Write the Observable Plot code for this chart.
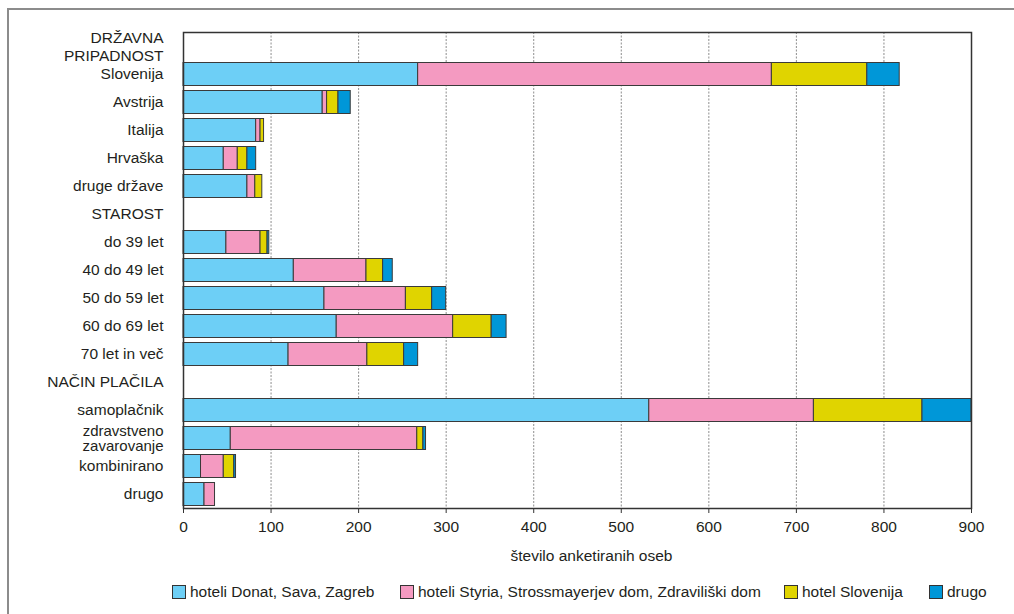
<!DOCTYPE html>
<html>
<head>
<meta charset="utf-8">
<script src="https://cdn.jsdelivr.net/npm/d3@7"></script>
<script src="https://cdn.jsdelivr.net/npm/@observablehq/plot@0.6"></script>
<style>
  html, body { margin: 0; padding: 0; background: #fff; }
  #wrap { position: relative; width: 1014px; height: 614px; overflow: hidden; font-family: "Liberation Sans", Arial, Helvetica, sans-serif; color: #231f20; }
  #outer { position: absolute; left: 7px; top: 8px; width: 1100px; height: 700px; border-top: 2px solid #8c8c8c; border-left: 2px solid #8c8c8c; }
  #chart { position: absolute; left: 0; top: 0; }
  .lg { position: absolute; top: 583px; display: flex; align-items: center; font-size: 15.5px; white-space: nowrap; }
  .sw { width: 12px; height: 12px; border: 1px solid #333; margin-right: 4px; box-sizing: content-box; }
</style>
</head>
<body>
<div id="wrap">
  <div id="outer"></div>
  <div id="chart"></div>
  <div id="legend"></div>
</div>
<script>
// ---- data ----
const rowOrder = [
  "DRŽAVNA\nPRIPADNOST",
  "Slovenija", "Avstrija", "Italija", "Hrvaška", "druge države",
  "STAROST",
  "do 39 let", "40 do 49 let", "50 do 59 let", "60 do 69 let", "70 let in več",
  "NAČIN PLAČILA",
  "samoplačnik", "zdravstveno\nzavarovanje", "kombinirano", "drugo"
];
const categories = [
  "Slovenija", "Avstrija", "Italija", "Hrvaška", "druge države",
  "do 39 let", "40 do 49 let", "50 do 59 let", "60 do 69 let", "70 let in več",
  "samoplačnik", "zdravstveno\nzavarovanje", "kombinirano", "drugo"
];
const seriesNames = [
  "hoteli Donat, Sava, Zagreb",
  "hoteli Styria, Strossmayerjev dom, Zdraviliški dom",
  "hotel Slovenija",
  "drugo"
];
const donatSavaZagreb = [268, 159, 83, 46, 73, 49, 126, 161, 175, 120, 532, 54, 20, 24];
const styriaStrossmayer = [404, 5, 5, 16, 9, 39, 83, 93, 133, 90, 188, 213, 26, 12];
const hotelSlovenija = [109, 13, 4, 11, 8, 8, 19, 30, 44, 42, 124, 7, 12, 0];
const drugoHotel = [37, 14, 0, 10, 0, 2, 11, 16, 17, 16, 56, 3, 2, 0];
const xTicks = [0, 100, 200, 300, 400, 500, 600, 700, 800, 900];
const colors = ["#6dcff6", "#f49ac1", "#e0d400", "#0097d8"];
const xLabel = "število anketiranih oseb";

// ---- table ----
const seriesValues = [donatSavaZagreb, styriaStrossmayer, hotelSlovenija, drugoHotel];
const table = [];
categories.forEach((c, i) => {
  seriesNames.forEach((s, j) => {
    const v = seriesValues[j][i];
    if (v > 0) table.push({cat: c, series: s, value: v});
  });
});

const font = '"Liberation Sans", Arial, Helvetica, sans-serif';
const twoLineHeader = ["DRŽAVNA\nPRIPADNOST"];
const twoLineCat = ["zdravstveno\nzavarovanje"];
const singleRows = rowOrder.filter(d => !d.includes("\n"));

const chart = Plot.plot({
  width: 1014,
  height: 575,
  marginLeft: 183,
  marginRight: 43,
  marginTop: 32,
  marginBottom: 67,
  style: {fontFamily: font, fontSize: "15.5px", color: "#231f20", background: "transparent", overflow: "visible"},
  x: {domain: [0, 900], axis: null},
  y: {type: "band", domain: rowOrder, padding: 0, axis: null},
  color: {domain: seriesNames, range: colors},
  marks: [
    Plot.ruleX(xTicks.slice(1, -1), {stroke: "#808080", strokeWidth: 0.9, strokeDasharray: "2,1.5"}),
    Plot.barX(table, Plot.stackX({x: "value", y: "cat", fill: "series", order: seriesNames, insetTop: 2.5, insetBottom: 2.5, stroke: "#3a3a3a", strokeWidth: 1})),
    Plot.frame({stroke: "#333", strokeWidth: 1.5}),
    Plot.axisX({ticks: xTicks, tickSize: 5, tickPadding: 7, tickFormat: d => String(d), label: null, stroke: "#333", fill: "#231f20"}),
    Plot.text(singleRows, {frameAnchor: "left", y: d => d, text: d => d, textAnchor: "end", dx: -20, fill: "#231f20"}),
    Plot.text(twoLineHeader, {frameAnchor: "left", y: d => d, text: d => d, textAnchor: "end", dx: -20, lineHeight: 1.12, fill: "#231f20"}),
    Plot.text(twoLineCat, {frameAnchor: "left", y: d => d, text: d => d, textAnchor: "end", dx: -20, fontSize: 15, lineHeight: 1.0, fill: "#231f20"}),
    Plot.text([xLabel], {frameAnchor: "bottom", text: d => d, dy: 52, dx: 14, fill: "#231f20"})
  ]
});
document.getElementById("chart").appendChild(chart);

// ---- legend ----
const legendX = [172, 400, 784, 929];
const legend = document.getElementById("legend");
seriesNames.forEach((s, i) => {
  const item = document.createElement("div");
  item.className = "lg";
  item.style.left = legendX[i] + "px";
  const sw = document.createElement("div");
  sw.className = "sw";
  sw.style.background = colors[i];
  const t = document.createElement("span");
  t.textContent = s;
  item.appendChild(sw);
  item.appendChild(t);
  legend.appendChild(item);
});
</script>
</body>
</html>
